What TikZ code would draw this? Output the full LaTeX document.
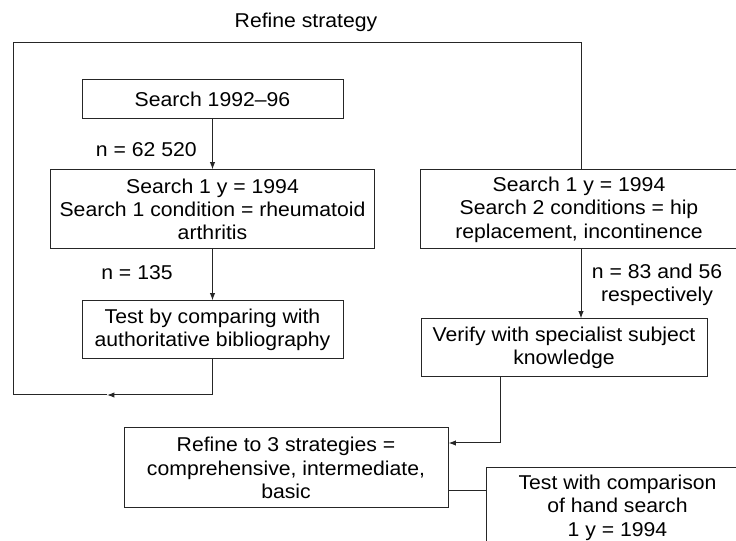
\documentclass[tikz,border=0pt]{standalone}
\usepackage{fontspec}
\setmainfont{Liberation Sans}[FakeStretch=1.06]
\usetikzlibrary{arrows.meta, positioning}

\begin{document}
\begin{tikzpicture} [
    x=0.75pt, y=-0.75pt,
    font=\fontsize{15}{17.5}\selectfont,
    every node/.style={inner sep=2pt},
    box/.style={draw=black!85, line width=0.75pt, align=center},
    flow/.style={draw=black!85, line width=0.75pt, -{Latex[length=5.5pt, width=4pt]}},
    line/.style={draw=black!85, line width=0.75pt},
    count/.style={align=center, inner sep=0pt}
  ]
  \clip (0,0) rectangle (736,541);

  % Nodes and Positions
  % LEFT COLUMN
  \node (SEARCH) [box, minimum width=261*0.75pt, minimum height=39*0.75pt] at (212.5,99.5) {Search 1992–96};
  \node (ONECOND) [box, minimum width=324*0.75pt, minimum height=79*0.75pt, below=37.5pt of SEARCH] {Search 1 y = 1994\\Search 1 condition = rheumatoid\\arthritis};
  \node (BIBLIO) [box, minimum width=261*0.75pt, minimum height=58*0.75pt, below=38.25pt of ONECOND] {Test by comparing with\\authoritative bibliography};

  % RIGHT COLUMN
  \node (TWOCOND) [box, minimum width=317*0.75pt, minimum height=79*0.75pt, right=33.75pt of ONECOND] {Search 1 y = 1994\\Search 2 conditions = hip\\replacement, incontinence};
  \node (SPECIALIST) [box, minimum width=286*0.75pt, minimum height=58*0.75pt] at (564,348) {Verify with specialist subject\\knowledge};

  % BOTTOM
  \node (THREE) [box, minimum width=324*0.75pt, minimum height=80*0.75pt] at (286,468) {Refine to 3 strategies =\\comprehensive, intermediate,\\basic};
  \node (HAND) [box, minimum width=262*0.75pt, minimum height=80*0.75pt, anchor=north west] at (486,467) {Test with comparison\\of hand search\\1 y = 1994};

  % Labels
  \node (REFINE) [count] at (306,22) {Refine strategy};
  \node (NSEARCH) [count, anchor=east] at (197,150) {n = 62 520};
  \node (NONE) [count] at (137,273) {n = 135};
  \node (NTWO) [count] at (657,284.5) {n = 83 and 56\\respectively};

  % Corners
  \coordinate (LOOPARR) at (107,395);
  \coordinate (LOOPBL) at (13,395);
  \coordinate (LOOPTL) at (13,43);
  \coordinate (LOOPTR) at (581,43);
  \coordinate (TURN) at (500,443);
  \coordinate (JOIN) at (0,491);

  % Edges
  \path[flow] (SEARCH.south) -- (SEARCH.south |- ONECOND.north);
  \path[flow] (ONECOND.south) -- (ONECOND.south |- BIBLIO.north);
  \path[flow] (BIBLIO.south) |- (LOOPARR);
  \path[line] (LOOPARR) -- (LOOPBL) -- (LOOPTL) -- (LOOPTR) -- (LOOPTR |- TWOCOND.north);

  \path[flow] (LOOPTR |- TWOCOND.south) -- (LOOPTR |- SPECIALIST.north);
  \path[flow] (TURN |- SPECIALIST.south) |- (THREE.east |- TURN);
  \path[line] (THREE.east |- JOIN) -- (HAND.west |- JOIN);

\end{tikzpicture}
\end{document}
